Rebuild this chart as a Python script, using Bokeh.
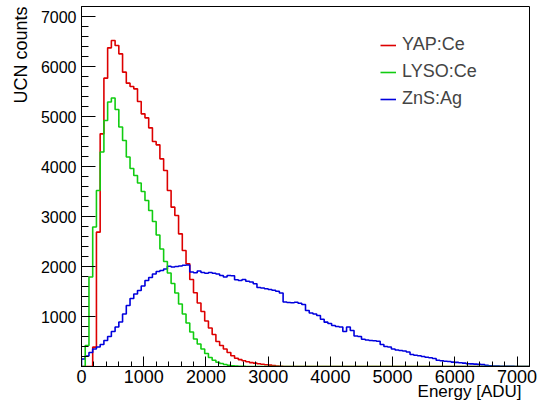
import numpy as np
from bokeh.plotting import figure
from bokeh.models import Range1d, FixedTicker, Legend, LegendItem, Title
from bokeh.embed import file_html
from bokeh.resources import INLINE

# ---- data (histograms: 120 bins of 60 ADU from 0 to 7200) ----
bin_edges = np.linspace(0, 7200, 121)

yap_ce = [0, 0, 0, 387, 2687, 4653, 5767, 6373, 6520, 6420,
          6253, 5887, 5667, 5600, 5553, 5300, 5053, 4973, 4773, 4500,
          4433, 4153, 3920, 3520, 3187, 3020, 2653, 2320, 2053, 1740,
          1475, 1270, 1100, 910, 770, 640, 500, 420, 350, 280,
          215, 165, 137, 115, 95, 78, 68, 55, 45, 36,
          27, 18, 8, 3] + [0] * 66

lyso_ce = [0, 420, 1790, 2790, 3520, 4290, 4920, 5290, 5370, 5140,
           4790, 4520, 4190, 3960, 3820, 3670, 3500, 3320, 3120, 2900,
           2630, 2350, 2100, 1870, 1660, 1470, 1250, 1050, 870, 690,
           550, 450, 350, 260, 180, 125, 85, 60, 40, 25,
           15, 8, 4, 2] + [0] * 76

zns_ag = [150, 210, 280, 350, 390, 440, 520, 600, 700, 790,
          890, 1050, 1220, 1360, 1450, 1520, 1610, 1720, 1780, 1850,
          1900, 1920, 1950, 2005, 1990, 2000, 2010, 2025, 2030, 1890,
          1875, 1910, 1880, 1865, 1880, 1865, 1850, 1820, 1790, 1820,
          1815, 1735, 1720, 1740, 1705, 1690, 1655, 1580, 1570, 1555,
          1540, 1525, 1505, 1470, 1290, 1280, 1275, 1285, 1265, 1240,
          1120, 1070, 1050, 1020, 945, 887, 860, 820, 800, 790,
          700, 790, 720, 610, 600, 545, 530, 520, 515, 505,
          440, 400, 390, 350, 330, 320, 310, 290, 240, 225,
          215, 200, 185, 175, 160, 125, 115, 105, 100, 88,
          82, 75, 68, 55, 52, 48, 42, 38, 25, 15,
          10, 8, 5, 4, 3, 2, 0, 0, 0, 0]

series_names = ["YAP:Ce", "LYSO:Ce", "ZnS:Ag"]
series_colors = ["#dd0000", "#11cc11", "#0000dd"]

x_ticks = [0, 1000, 2000, 3000, 4000, 5000, 6000, 7000]
y_ticks = [0, 1000, 2000, 3000, 4000, 5000, 6000, 7000]

FONT = "Liberation Sans"


def outline(edges, counts):
    xs = np.repeat(edges, 2)
    ys = np.concatenate([[0], np.repeat(np.asarray(counts, float), 2), [0]])
    return xs, ys


p = figure(width=541, height=412,
           min_border_left=81, min_border_right=12,
           min_border_top=6, min_border_bottom=46,
           x_range=Range1d(0, 7200), y_range=Range1d(0, 7200),
           output_backend="svg", toolbar_location=None)

p.xgrid.visible = False
p.ygrid.visible = False
p.outline_line_color = "black"
p.outline_line_width = 1
p.background_fill_color = "white"
p.border_fill_color = "white"

# axes
p.xaxis.ticker = FixedTicker(ticks=x_ticks,
                             minor_ticks=list(np.arange(0, 7201, 200)))
p.yaxis.ticker = FixedTicker(ticks=y_ticks,
                             minor_ticks=list(np.arange(0, 7201, 200)))
p.yaxis.major_label_overrides = {0: ""}
for ax in (p.xaxis[0], p.yaxis[0]):
    ax.axis_line_color = "black"
    ax.major_tick_line_color = "black"
    ax.minor_tick_line_color = "black"
    ax.major_tick_out = 0
    ax.minor_tick_out = 0
    ax.major_label_text_font = FONT
    ax.major_label_text_color = "black"
p.xaxis.major_label_text_font_size = "18px"
p.yaxis.major_label_text_font_size = "16px"
p.xaxis.major_tick_in = 10
p.xaxis.minor_tick_in = 5
p.yaxis.major_tick_in = 14
p.yaxis.minor_tick_in = 7
p.xaxis.major_label_standoff = 3
p.yaxis.major_label_standoff = 5

renderers = []
for counts, color in zip([yap_ce, zns_ag, lyso_ce],
                         [series_colors[0], series_colors[2], series_colors[1]]):
    xs, ys = outline(bin_edges, counts)
    r = p.line(xs, ys, line_color=color, line_width=1.6)
    renderers.append(r)

legend = Legend(items=[LegendItem(label=series_names[0], renderers=[renderers[0]]),
                       LegendItem(label=series_names[1], renderers=[renderers[2]]),
                       LegendItem(label=series_names[2], renderers=[renderers[1]])],
                location=(299, 257))
legend.border_line_color = None
legend.background_fill_alpha = 0
legend.padding = 0
legend.margin = 0
legend.spacing = 6
legend.glyph_width = 16
legend.glyph_height = 20
legend.label_height = 20
legend.label_standoff = 6
legend.label_text_font = FONT
legend.label_text_font_size = "18px"
p.add_layout(legend, "center")

xt = Title(text="Energy [ADU]", align="right", offset=8, standoff=-12,
           text_font=FONT, text_font_size="17px", text_font_style="normal",
           text_color="black")
p.add_layout(xt, "below")
yt = Title(text="UCN counts", align="right", offset=0, standoff=14,
           text_font=FONT, text_font_size="18px", text_font_style="normal",
           text_color="black")
p.add_layout(yt, "left")

open("out.html", "w").write(file_html(p, INLINE))
